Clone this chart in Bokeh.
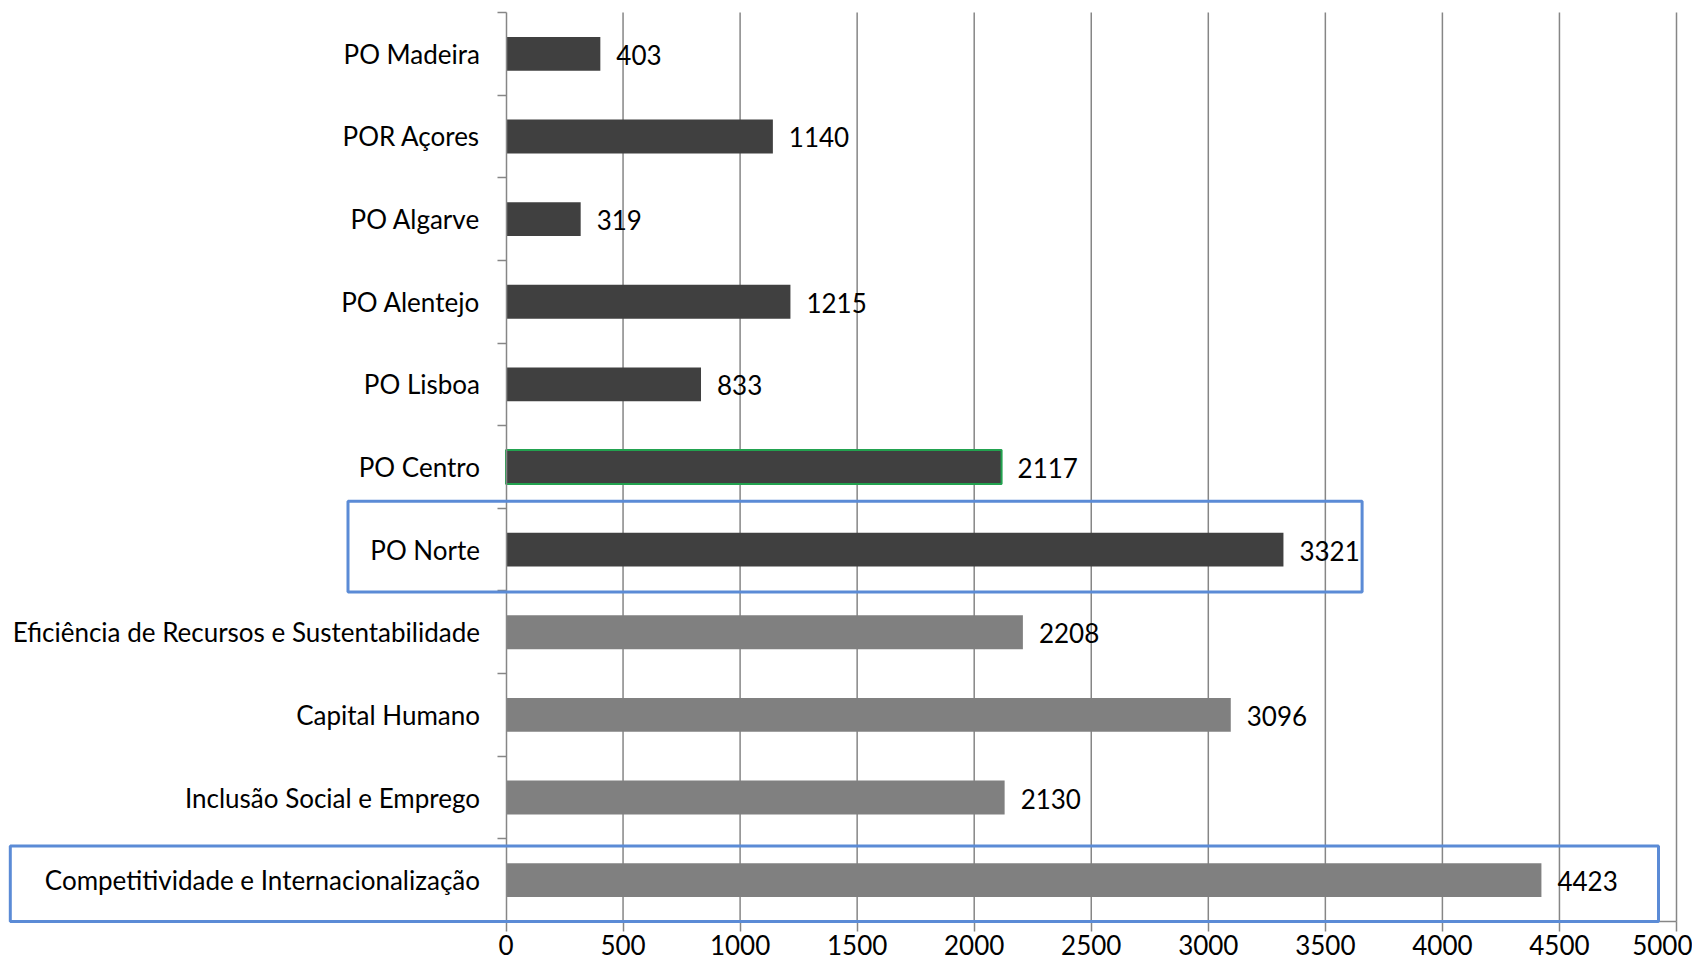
from bokeh.plotting import figure
from bokeh.models import (ColumnDataSource, FixedTicker, BoxAnnotation, Range1d, LinearAxis)
from bokeh.core.properties import value
from bokeh.embed import file_html
from bokeh.resources import INLINE

# Data (top to bottom as displayed)
categories = ["PO Madeira", "POR Açores", "PO Algarve", "PO Alentejo", "PO Lisboa",
              "PO Centro", "PO Norte", "Eficiência de Recursos e Sustentabilidade",
              "Capital Humano", "Inclusão Social e Emprego",
              "Competitividade e Internacionalização"]
values = [403, 1140, 319, 1215, 833, 2117, 3321, 2208, 3096, 2130, 4423]
groups = ["regional"] * 7 + ["temático"] * 4
outlined = ["PO Centro"]
highlighted = ["PO Norte", "Competitividade e Internacionalização"]
x_ticks = [0, 500, 1000, 1500, 2000, 2500, 3000, 3500, 4000, 4500, 5000]

FONT = "Lato"
FS = "26px"
GRID = "#868686"
W, H = 1692, 960
n = len(categories)
XMAX = x_ticks[-1]

# layout in canvas pixels: where the value axis and category axis sit
X0_PX, XMAX_PX = 505.5, 1676.0
YTOP_PX, YBOT_PX = 12.0, 921.0
kx = (XMAX_PX - X0_PX) / XMAX
ky = (YBOT_PX - YTOP_PX) / n
x_range = Range1d(-X0_PX / kx, XMAX + (W - XMAX_PX) / kx)
y_range = Range1d(-(H - YBOT_PX) / ky, n + YTOP_PX / ky)

ypos = [n - 1 - i + 0.5 for i in range(n)]
colors = ["#404040" if g == "regional" else "#808080" for g in groups]
line_alpha = [1.0 if c in outlined else 0.0 for c in categories]

src = ColumnDataSource(dict(y=ypos, v=values, cat=categories, color=colors,
                            la=line_alpha, lbl=[str(v) for v in values]))

p = figure(width=W, height=H, output_backend="svg", toolbar_location=None,
           x_range=x_range, y_range=y_range, x_axis_location=None, y_axis_location=None,
           min_border=0)
p.outline_line_color = None
p.background_fill_color = "white"
p.xgrid.grid_line_color = None
p.ygrid.grid_line_color = None

# vertical gridlines, spanning the category extent only
gx = [t for t in x_ticks if t != 0]
p.segment(x0=gx, x1=gx, y0=[0] * len(gx), y1=[n] * len(gx),
          line_color=GRID, line_width=1.5)

p.hbar(y="y", right="v", left=0, height=0.41, source=src, fill_color="color",
       line_color="#22A24F", line_alpha="la", line_width=2)

p.text(x="v", y="y", text="lbl", source=src, x_offset=16, y_offset=1,
       text_baseline="middle", text_align="left", text_font=value(FONT),
       text_font_size=FS, text_color="black")

# x axis (value)
xa = LinearAxis(fixed_location=0, bounds=(0, XMAX))
xa.ticker = FixedTicker(ticks=x_ticks, minor_ticks=[])
xa.axis_line_color = GRID
xa.axis_line_width = 1.5
xa.major_tick_line_color = GRID
xa.major_tick_line_width = 1.5
xa.major_tick_out = 10
xa.major_tick_in = 0
xa.minor_tick_line_color = None
xa.major_label_standoff = 3
xa.major_label_text_font = FONT
xa.major_label_text_font_size = FS
xa.major_label_text_color = "black"
p.add_layout(xa, "below")

# y axis (categories), ticks at category boundaries
ya = LinearAxis(fixed_location=0, bounds=(0, n))
ya.ticker = FixedTicker(ticks=ypos, minor_ticks=list(range(n + 1)))
ya.major_label_overrides = {y: c for y, c in zip(ypos, categories)}
ya.axis_line_color = GRID
ya.axis_line_width = 1.5
ya.major_tick_line_color = None
ya.major_tick_out = 9
ya.major_tick_in = 0
ya.minor_tick_line_color = GRID
ya.minor_tick_line_width = 1.5
ya.minor_tick_out = 9
ya.minor_tick_in = 0
ya.major_label_standoff = 17
ya.major_label_text_font = FONT
ya.major_label_text_font_size = FS
ya.major_label_text_color = "black"
p.add_layout(ya, "left")

# highlight boxes
box_specs = {
    "PO Norte": dict(left_px=347.5, right_px=1361.6, dy_top=0.587, dy_bot=-0.513),
    "Competitividade e Internacionalização": dict(left_px=9.8, right_px=1658.0,
                                                  dy_top=0.413, dy_bot=-0.5),
}
for c in highlighted:
    yc = ypos[categories.index(c)]
    s = box_specs[c]
    p.add_layout(BoxAnnotation(left=(s["left_px"] - X0_PX) / kx,
                               right=(s["right_px"] - X0_PX) / kx,
                               top=yc + s["dy_top"], bottom=yc + s["dy_bot"],
                               fill_alpha=0, line_color="#5B8BD6", line_alpha=1.0,
                               line_width=3, level="overlay"))

open("out.html", "w").write(file_html(p, INLINE))
